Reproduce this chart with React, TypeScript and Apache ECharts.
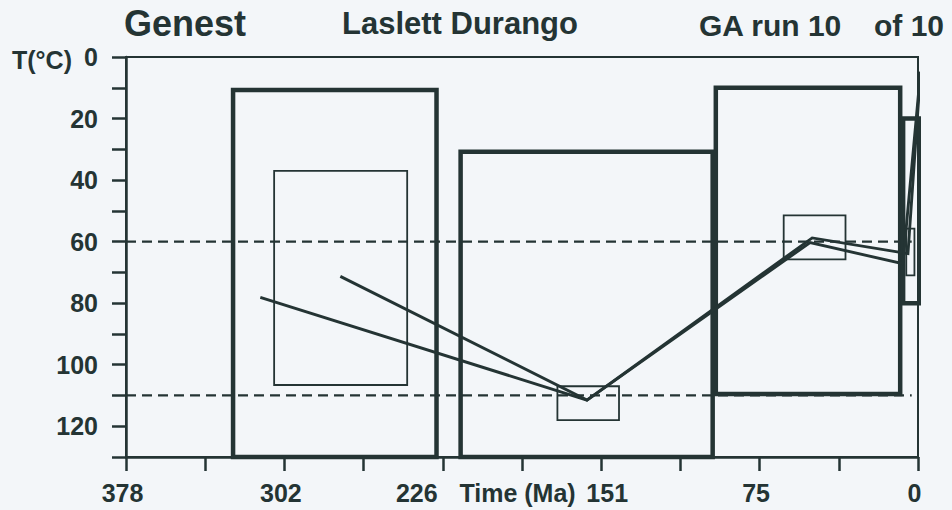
import React, { useEffect, useRef } from "react";
import * as echarts from "echarts";

// ---- data ----
const xTickStep = 37.8; // Ma between ticks
const xTickLabels = ["0", "", "75", "", "151", "Time (Ma)", "226", "", "302", "", "378"];
const yLabelEvery = 20;

// thick (general constraint) boxes: time in Ma, temperature in °C
const thickBoxTimeOld = [326.9, 218.3, 96.5, 7.1];
const thickBoxTimeYoung = [229.8, 98.0, 8.5, -1.0];
const thickBoxTempTop = [10.7, 30.8, 10.0, 20.0];
const thickBoxTempBottom = [130, 130, 109.5, 80.0];

// thin (GA) boxes
const thinBoxTimeOld = [307.3, 172.1, 64.1, 5.6];
const thinBoxTimeYoung = [243.8, 142.7, 34.6, 1.7];
const thinBoxTempTop = [37.0, 107.0, 51.5, 55.8];
const thinBoxTempBottom = [106.6, 118.0, 65.8, 71.0];

// time–temperature paths
const pathATimes = [313.9, 158.0, 50.5, 4.8, -1.2];
const pathATemps = [78.1, 111.5, 58.8, 63.9, 4.8];
const pathBTimes = [275.7, 158.0, 51.5, 7.2, -1.2];
const pathBTemps = [71.3, 111.5, 60.3, 67.2, 4.8];

// dashed reference temperatures
const dashedTemps = [60, 110];
const dashedTimeStart = 378;
const dashedTimeEnd = 3;

const INK = "#243434";
const BG = "#f3f6f9";
const FONT = "'Liberation Sans', Arial, Helvetica, sans-serif";

function boxData(t0: number, t1: number, top: number, bottom: number) {
  return [
    [t0, top],
    [t1, top],
    [t1, bottom],
    [t0, bottom],
    [t0, top],
  ];
}

export default function App() {
  const ref = useRef<HTMLDivElement>(null);

  useEffect(() => {
    if (!ref.current) return;
    const chart = echarts.init(ref.current, undefined, { renderer: "svg" });

    const series: any[] = [];

    dashedTemps.forEach((T, i) => {
      series.push({
        type: "line",
        name: "dash" + i,
        data: [
          [dashedTimeStart, T],
          [dashedTimeEnd, T],
        ],
        symbol: "none",
        silent: true,
        clip: false,
        lineStyle: { color: INK, width: 2.2, type: [10, 6] },
        z: 2,
      });
    });

    thinBoxTimeOld.forEach((t0, i) => {
      series.push({
        type: "line",
        name: "thin" + i,
        data: boxData(t0, thinBoxTimeYoung[i], thinBoxTempTop[i], thinBoxTempBottom[i]),
        symbol: "none",
        silent: true,
        clip: false,
        lineStyle: { color: INK, width: 1.8, join: "miter", cap: "square" },
        z: 3,
      });
    });

    thickBoxTimeOld.forEach((t0, i) => {
      series.push({
        type: "line",
        name: "thick" + i,
        data: boxData(t0, thickBoxTimeYoung[i], thickBoxTempTop[i], thickBoxTempBottom[i]),
        symbol: "none",
        silent: true,
        clip: false,
        lineStyle: { color: INK, width: 4.5, join: "miter", cap: "square" },
        z: 4,
      });
    });

    [
      [pathATimes, pathATemps],
      [pathBTimes, pathBTemps],
    ].forEach(([ts, Ts], i) => {
      series.push({
        type: "line",
        name: "path" + i,
        data: ts.map((t, k) => [t, Ts[k]]),
        symbol: "none",
        silent: true,
        clip: false,
        lineStyle: { color: INK, width: 2.9, join: "miter" },
        z: 5,
      });
    });

    const labelBase = { fontSize: 25, fontWeight: "bold" as const, fontFamily: FONT, color: INK };

    chart.setOption({
      animation: false,
      backgroundColor: BG,
      grid: {
        left: 126,
        right: 34,
        top: 57,
        bottom: 53,
        show: true,
        borderColor: INK,
        borderWidth: 2,
        backgroundColor: "transparent",
      },
      xAxis: {
        type: "value",
        inverse: true,
        min: 0,
        max: 378,
        interval: xTickStep,
        splitLine: { show: false },
        axisLine: { show: true, onZero: false, lineStyle: { color: INK, width: 2.5 } },
        axisTick: { show: true, length: 14, inside: false, lineStyle: { color: INK, width: 2.5 } },
        axisLabel: {
          ...labelBase,
          interval: 0,
          margin: 23,
          formatter: (v: number) => {
            const i = Math.round(v / xTickStep);
            const s = xTickLabels[i] ?? "";
            if (!s) return "";
            const st = i === 6 ? "l" : i === 4 ? "r" : i === 5 ? "t" : "n";
            return `{${st}|${s}}`;
          },
          rich: {
            n: { ...labelBase, padding: [0, 7, 0, 0] },
            l: { ...labelBase, padding: [0, 52, 0, 0] },
            r: { ...labelBase, padding: [0, 0, 0, 12] },
            t: { ...labelBase, padding: [0, 9, 0, 0] },
          },
        },
      },
      yAxis: {
        type: "value",
        inverse: true,
        min: 0,
        max: 130,
        interval: 10,
        splitLine: { show: false },
        axisLine: { show: true, onZero: false, lineStyle: { color: INK, width: 2.5 } },
        axisTick: { show: true, length: 14, inside: false, lineStyle: { color: INK, width: 2.5 } },
        axisLabel: {
          ...labelBase,
          margin: 28,
          padding: [7, 0, 0, 0],
          formatter: (v: number) => (Math.round(v) % yLabelEvery === 0 ? String(Math.round(v)) : ""),
        },
      },
      graphic: [
        {
          type: "text",
          x: 124,
          y: 23,
          style: { text: "Genest", fontSize: 36, fontWeight: "bold", fontFamily: FONT, fill: INK, align: "left", verticalAlign: "middle" },
        },
        {
          type: "text",
          x: 342,
          y: 23,
          style: { text: "Laslett Durango", fontSize: 31, fontWeight: "bold", fontFamily: FONT, fill: INK, align: "left", verticalAlign: "middle" },
        },
        {
          type: "text",
          x: 699,
          y: 25,
          style: { text: "GA run 10", fontSize: 30, fontWeight: "bold", fontFamily: FONT, fill: INK, align: "left", verticalAlign: "middle" },
        },
        {
          type: "text",
          x: 874,
          y: 25,
          style: { text: "of 10", fontSize: 30, fontWeight: "bold", fontFamily: FONT, fill: INK, align: "left", verticalAlign: "middle" },
        },
        {
          type: "text",
          x: 72,
          y: 60,
          style: { text: "T(°C)", fontSize: 25, fontWeight: "bold", fontFamily: FONT, fill: INK, align: "right", verticalAlign: "middle" },
        },
      ],
      series,
    });

    return () => chart.dispose();
  }, []);

  return (
    <div
      ref={ref}
      style={{ position: "absolute", left: 0, top: 0, width: 952, height: 510 }}
    />
  );
}
